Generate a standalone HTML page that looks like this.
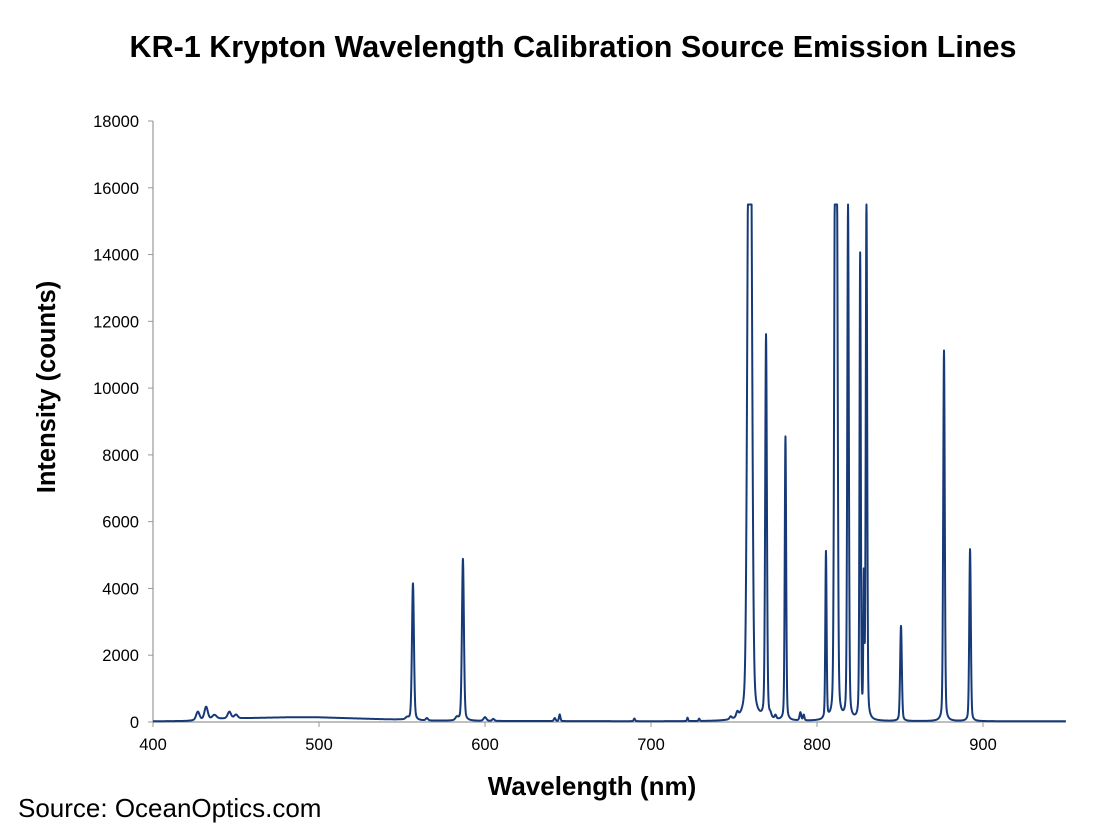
<!DOCTYPE html>
<html><head><meta charset="utf-8"><style>
body{margin:0;background:#fff;}
svg{display:block;font-family:"Liberation Sans",Arial,sans-serif;}
</style></head><body>
<svg id="chart" width="1100" height="833" viewBox="0 0 1100 833">
<text x="573" y="57" text-anchor="middle" font-size="30.5" font-weight="bold" fill="#000">KR-1 Krypton Wavelength Calibration Source Emission Lines</text>
<text transform="translate(55,387) rotate(-90)" text-anchor="middle" font-size="25.5" font-weight="bold" fill="#000">Intensity (counts)</text>
<text x="592" y="795" text-anchor="middle" font-size="26" font-weight="bold" fill="#000">Wavelength (nm)</text>
<text x="18" y="817" font-size="26" fill="#000">Source: OceanOptics.com</text>
<g id="axes"></g>
<path id="spectrum" fill="none" stroke="#163a78" stroke-width="2" stroke-linejoin="round"/>
</svg>
<script>
const xTicks=[400,500,600,700,800,900];
const yTicks=[0,2000,4000,6000,8000,10000,12000,14000,16000,18000];
const peakCenters=[427,432,437,446,450,553,556.6,565,583,586.7,600,605,642,645,690,722,729,748,752,758.7,760.2,769.3,772,775,781,790,792,805.4,810.8,812,818.7,826,828.2,829.8,850.6,876.5,892.2];
const peakHeights=[250,380,120,200,110,60,4100,70,90,4850,110,60,90,200,80,100,70,80,150,15100,15500,11500,90,110,8500,240,170,5000,15400,15400,15400,13900,4000,15500,2850,11100,5150];
const peakWidths=[1.2,1.2,1.5,1.2,1.2,1,0.7,0.8,1,0.7,1,0.8,0.6,0.5,0.5,0.4,0.4,0.8,0.8,1.0,1.0,0.6,0.6,0.6,0.5,0.6,0.5,0.45,0.6,0.6,0.55,0.45,0.35,0.5,0.6,0.55,0.55];
const baseWl=[400,420,440,460,480,500,520,540,550,560,600,700,800,950];
const baseVal=[20,30,100,120,140,140,110,80,70,40,30,20,20,20];
const saturation=15500;
const X0=153,X1=1066,Y0=722,Y1=121,xMin=400,xMax=950,yMax=18000;
const xs=v=>X0+(v-xMin)/(xMax-xMin)*(X1-X0);
const ys=v=>Y0-v/yMax*(Y0-Y1);
const ns="http://www.w3.org/2000/svg";
const ax=document.getElementById('axes');
function mk(t,a){const e=document.createElementNS(ns,t);for(const k in a)e.setAttribute(k,a[k]);ax.appendChild(e);return e;}
const yl=mk('line',{x1:X0,y1:Y1,x2:X0,y2:Y0,stroke:'#999','stroke-width':1.2});


const xl=mk('line',{x1:X0,y1:Y0,x2:X1,y2:Y0,stroke:'#999','stroke-width':1.2});


yTicks.forEach(v=>{
 const t=mk('line',{x1:X0-5,y1:ys(v),x2:X0,y2:ys(v),stroke:'#999'});
 
 
 const l=mk('text',{x:X0-14,y:ys(v)+6,'text-anchor':'end','font-size':16.5,fill:'#000'});
 l.textContent=v;
 
 
});
xTicks.forEach(v=>{
 const t=mk('line',{x1:xs(v),y1:Y0,x2:xs(v),y2:Y0+5,stroke:'#999'});
 
 
 const l=mk('text',{x:xs(v),y:Y0+28,'text-anchor':'middle','font-size':16.5,fill:'#000'});
 l.textContent=v;
 
 
});
function base(w){for(let i=0;i<baseWl.length-1;i++){if(w<=baseWl[i+1]){const f=(w-baseWl[i])/(baseWl[i+1]-baseWl[i]);return baseVal[i]+f*(baseVal[i+1]-baseVal[i]);}}return baseVal[baseVal.length-1];}
let d='';
for(let w=xMin;w<=xMax;w+=0.1){
 let v=base(w);
 for(let i=0;i<peakCenters.length;i++){const g=peakWidths[i],u=(w-peakCenters[i])/g;v+=peakHeights[i]*(0.72*Math.exp(-u*u*0.69)+0.28/(1+u*u));}
 v=Math.min(v,saturation);
 d+=(d?'L':'M')+xs(w).toFixed(2)+','+ys(v).toFixed(2);
}
document.getElementById('spectrum').setAttribute('d',d);
</script>
</body></html>
